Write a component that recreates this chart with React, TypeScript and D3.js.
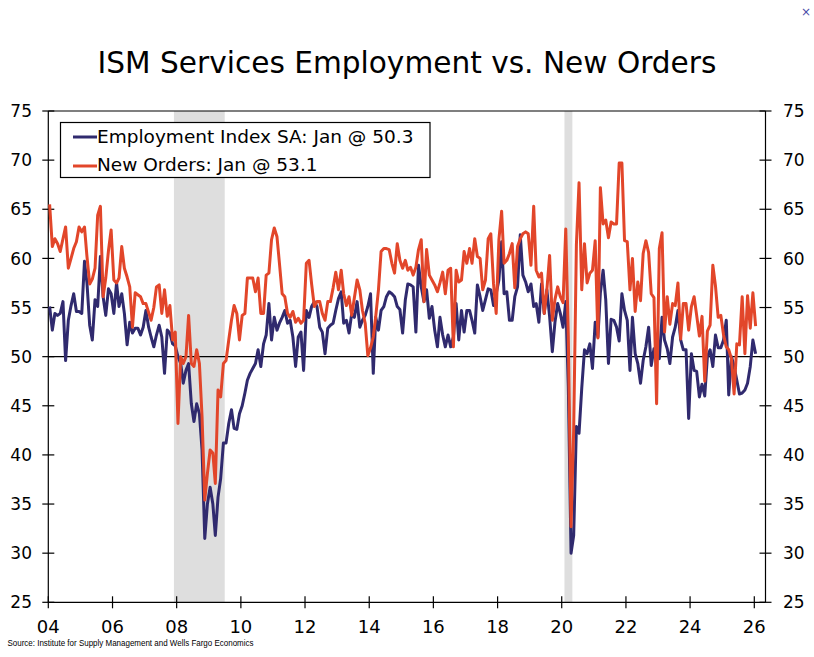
import React from 'react';
import * as d3 from 'd3';

// monthly readings, Jan 2004 .. Jan 2026
const startYear = 2004;

const employment: number[] = [
  55.1, 52.7, 54.4, 54.2, 54.4, 55.6, 49.6, 53.7, 55.2, 56.4, 54.6, 54.6, // 2004
  54.4, 59.7, 57.5, 53.2, 51.7, 55.8, 55.1, 60.2, 56.1, 54.2, 56.9, 56.4, // 2005
  54.4, 57.5, 55.1, 56.4, 54.4, 51.2, 53.5, 52.4, 52.9, 52.9, 52.2, 53.0, // 2006
  54.7, 53.0, 52.0, 51.0, 52.2, 53.2, 52.0, 48.3, 52.7, 52.4, 51.3, 51.1, // 2007
  50.0, 49.3, 47.3, 48.6, 49.3, 45.2, 43.4, 45.2, 44.2, 40.5, 31.5, 35.0, // 2008
  36.7, 35.0, 31.8, 35.7, 37.6, 41.2, 41.2, 43.2, 44.6, 42.7, 42.6, 44.2, // 2009
  45.0, 46.3, 47.6, 48.3, 48.8, 49.3, 50.7, 49.0, 51.3, 52.2, 55.4, 51.7, // 2010
  54.0, 52.7, 53.4, 54.0, 54.7, 53.4, 53.7, 52.0, 49.0, 52.0, 52.5, 48.6, // 2011
  54.7, 54.0, 55.1, 55.6, 55.1, 53.0, 52.5, 50.3, 52.9, 53.2, 53.4, 54.7, // 2012
  55.9, 56.6, 53.4, 53.7, 52.4, 54.4, 54.0, 55.6, 53.0, 53.7, 54.2, 55.1, // 2013
  56.4, 48.3, 54.0, 52.7, 54.7, 55.1, 56.1, 56.6, 56.4, 56.1, 55.1, 54.8, // 2014
  52.4, 55.8, 57.4, 57.3, 57.1, 52.5, 59.3, 57.1, 55.6, 56.8, 53.9, 55.1, // 2015
  52.7, 51.0, 54.0, 52.2, 51.0, 52.2, 51.0, 52.0, 55.4, 51.7, 54.7, 52.5, // 2016
  54.7, 54.7, 53.7, 52.4, 57.3, 56.1, 54.7, 55.8, 56.9, 56.8, 55.2, 56.4, // 2017
  57.8, 61.7, 56.4, 56.6, 53.7, 53.7, 56.1, 57.1, 62.4, 58.3, 57.6, 56.6, // 2018
  57.4, 55.1, 55.4, 53.5, 57.4, 54.4, 56.8, 54.1, 50.5, 53.5, 55.4, 54.4, // 2019
  53.0, 55.6, 47.0, 30.0, 31.8, 42.9, 42.2, 46.8, 50.7, 50.3, 51.3, 48.8, // 2020
  53.5, 52.0, 56.5, 58.8, 55.8, 49.3, 53.8, 53.7, 53.0, 51.6, 56.4, 54.7, // 2021
  53.7, 48.6, 54.0, 50.3, 49.3, 47.3, 49.6, 51.0, 53.0, 49.1, 50.8, 50.0, // 2022
  49.8, 54.0, 51.7, 50.8, 49.3, 52.0, 53.0, 54.7, 51.7, 50.7, 50.7, 43.7, // 2023
  50.3, 48.6, 48.5, 45.9, 47.2, 46.0, 50.0, 50.7, 49.0, 52.2, 50.9, 50.9, // 2024
  51.7, 53.7, 46.1, 50.0, 49.0, 47.6, 46.2, 46.3, 46.6, 47.3, 49.0, 51.7, // 2025
  50.3, // 2026
];

const newOrders: number[] = [
  65.5, 61.2, 62.0, 61.5, 60.7, 62.0, 63.2, 59.0, 60.0, 61.0, 61.7, 63.2, // 2004
  62.7, 63.2, 60.2, 57.4, 57.9, 59.0, 64.4, 65.3, 56.1, 58.0, 60.8, 62.9, // 2005
  57.8, 57.5, 58.0, 61.2, 59.0, 58.1, 57.1, 53.0, 56.5, 56.3, 56.1, 55.4, // 2006
  55.4, 54.5, 53.7, 55.0, 57.1, 57.3, 54.4, 56.8, 54.1, 55.2, 51.7, 52.5, // 2007
  43.2, 50.0, 49.3, 50.0, 54.2, 49.3, 49.0, 50.7, 49.3, 43.9, 35.4, 38.1, // 2008
  40.5, 40.2, 37.1, 46.6, 45.9, 49.3, 49.6, 51.7, 53.7, 55.2, 54.4, 51.7, // 2009
  54.2, 54.4, 58.0, 58.0, 58.0, 56.6, 58.0, 54.4, 54.4, 58.3, 58.5, 61.9, // 2010
  63.1, 62.2, 59.5, 56.4, 56.1, 54.4, 54.0, 54.6, 53.5, 53.9, 53.4, 53.7, // 2011
  59.5, 59.8, 57.4, 55.1, 55.6, 55.6, 54.4, 53.7, 55.6, 55.6, 57.0, 58.6, // 2012
  56.8, 58.8, 56.4, 55.2, 56.1, 54.2, 56.0, 57.8, 56.8, 54.7, 53.4, 50.1, // 2013
  50.9, 52.0, 54.1, 56.8, 60.7, 61.0, 61.0, 60.9, 59.5, 58.5, 61.5, 59.8, // 2014
  59.0, 59.8, 58.8, 59.1, 58.3, 59.1, 60.9, 61.9, 55.6, 60.9, 58.3, 57.8, // 2015
  57.3, 56.6, 57.5, 58.6, 56.4, 58.8, 59.0, 51.0, 58.8, 57.6, 57.8, 60.7, // 2016
  59.5, 61.0, 59.5, 62.0, 60.2, 60.0, 56.8, 57.8, 62.0, 62.5, 57.4, 54.4, // 2017
  61.9, 64.8, 59.5, 59.8, 60.5, 61.5, 57.0, 61.2, 62.0, 62.5, 62.7, 62.5, // 2018
  59.3, 65.3, 58.8, 58.1, 58.5, 54.4, 56.8, 60.3, 53.7, 55.8, 57.1, 56.1, // 2019
  55.5, 63.0, 52.0, 32.7, 42.5, 61.4, 67.7, 56.8, 61.5, 57.5, 58.5, 58.8, // 2020
  61.8, 51.9, 67.2, 63.5, 63.9, 62.1, 63.7, 63.5, 63.5, 69.7, 69.7, 61.8, // 2021
  61.7, 56.8, 60.0, 54.6, 57.6, 55.7, 60.5, 61.8, 60.6, 56.4, 56.0, 45.2, // 2022
  61.0, 62.6, 52.5, 56.1, 53.3, 55.4, 55.2, 57.5, 51.8, 55.4, 55.4, 52.7, // 2023
  55.1, 56.1, 54.2, 52.1, 54.1, 47.5, 52.6, 53.2, 59.3, 57.2, 54.0, 54.2, // 2024
  52.2, 51.0, 50.7, 49.8, 46.2, 51.3, 51.2, 56.1, 50.3, 56.2, 52.9, 56.5, // 2025
  53.1, // 2026
];

const yTicks = [25, 30, 35, 40, 45, 50, 55, 60, 65, 70, 75];
const xTickYears = [2004, 2006, 2008, 2010, 2012, 2014, 2016, 2018, 2020, 2022, 2024, 2026];
const recessionStarts = [new Date(2007, 11, 1), new Date(2020, 1, 1)];
const recessionEnds = [new Date(2009, 6, 1), new Date(2020, 4, 1)];

const legendLabels = ['Employment Index SA: Jan @ 50.3', 'New Orders: Jan @ 53.1'];
const colors = ['#302a6e', '#e2462a'];

const W = 814;
const H = 657;
const plot = { left: 48.3, right: 765.5, top: 111, bottom: 602.3 };
const FONT = "'DejaVu Sans', Verdana, sans-serif";

const monthDate = (i: number) => new Date(startYear, i, 16);

const App: React.FC = () => {
  const x = d3
    .scaleTime()
    .domain([new Date(2004, 0, 1), new Date(2026, 0, 1)])
    .range([plot.left, 754.3]);
  const y = d3.scaleLinear().domain([25, 75]).range([plot.bottom, plot.top]);

  const line = d3
    .line<number>()
    .x((_, i) => x(monthDate(i)))
    .y(d => y(d));

  const series = [employment, newOrders];

  return (
    <div style={{ position: 'absolute', left: 0, top: 0 }}>
      <svg width={W} height={H} viewBox={`0 0 ${W} ${H}`} style={{ display: 'block', background: '#fff' }}>
        <text x={806} y={16} fontSize={12} fill="#4a4aa8" fontFamily={FONT} textAnchor="middle">×</text>

        <text x={407} y={73} fontSize={29.6} fontFamily={FONT} textAnchor="middle" fill="#000">
          ISM Services Employment vs. New Orders
        </text>

        {/* recession shading */}
        {recessionStarts.map((s, i) => (
          <rect
            key={i}
            x={x(s)}
            y={plot.top}
            width={x(recessionEnds[i]) - x(s)}
            height={plot.bottom - plot.top}
            fill="#dedede"
          />
        ))}

        {/* frame */}
        <line x1={plot.left} x2={plot.right} y1={plot.top} y2={plot.top} stroke="#000" strokeWidth={1.2} />
        <line x1={plot.left} x2={plot.right} y1={plot.bottom} y2={plot.bottom} stroke="#000" strokeWidth={1.2} />
        <line x1={plot.left} x2={plot.left} y1={plot.top} y2={plot.bottom} stroke="#000" strokeWidth={1.2} />
        <line x1={plot.right} x2={plot.right} y1={plot.top} y2={plot.bottom} stroke="#000" strokeWidth={1.2} />
        <line x1={plot.left} x2={plot.right} y1={y(50)} y2={y(50)} stroke="#000" strokeWidth={1.2} />

        {/* y ticks both sides */}
        {yTicks.map(t => (
          <g key={t}>
            <line x1={plot.left - 6} x2={plot.left + 6} y1={y(t)} y2={y(t)} stroke="#000" strokeWidth={1.2} />
            <line x1={plot.right - 6} x2={plot.right + 6} y1={y(t)} y2={y(t)} stroke="#000" strokeWidth={1.2} />
            <text x={32} y={y(t)} dy="0.36em" fontSize={17} fontFamily={FONT} textAnchor="end" fill="#000">
              {t}
            </text>
            <text x={783} y={y(t)} dy="0.36em" fontSize={17} fontFamily={FONT} textAnchor="start" fill="#000">
              {t}
            </text>
          </g>
        ))}

        {/* x ticks */}
        {xTickYears.map(yr => {
          const px = x(new Date(yr, 0, 1));
          return (
            <g key={yr}>
              <line x1={px} x2={px} y1={plot.bottom - 6} y2={plot.bottom + 6} stroke="#000" strokeWidth={1.2} />
              <text x={px} y={633} fontSize={18} fontFamily={FONT} textAnchor="middle" fill="#000">
                {String(yr).slice(2)}
              </text>
            </g>
          );
        })}

        {/* series */}
        {series.map((s, i) => (
          <path key={i} d={line(s) || ''} fill="none" stroke={colors[i]} strokeWidth={3} strokeLinejoin="round" />
        ))}

        {/* legend */}
        <rect x={60.5} y={122.5} width={369.5} height={55} fill="#fff" stroke="#000" strokeWidth={1.2} />
        {legendLabels.map((lab, i) => (
          <g key={lab}>
            <line x1={73} x2={97} y1={137 + i * 29} y2={137 + i * 29} stroke={colors[i]} strokeWidth={3} />
            <text x={97} y={142.7 + i * 28.5} fontSize={18.5} fontFamily={FONT} fill="#000">
              {lab}
            </text>
          </g>
        ))}

        <text
          x={7.5}
          y={646}
          fontSize={9}
          fontFamily="'Liberation Sans', Arial, sans-serif"
          fill="#000"
          textLength={246}
          lengthAdjust="spacingAndGlyphs"
        >
          Source: Institute for Supply Management and Wells Fargo Economics
        </text>
      </svg>
    </div>
  );
};

export default App;
